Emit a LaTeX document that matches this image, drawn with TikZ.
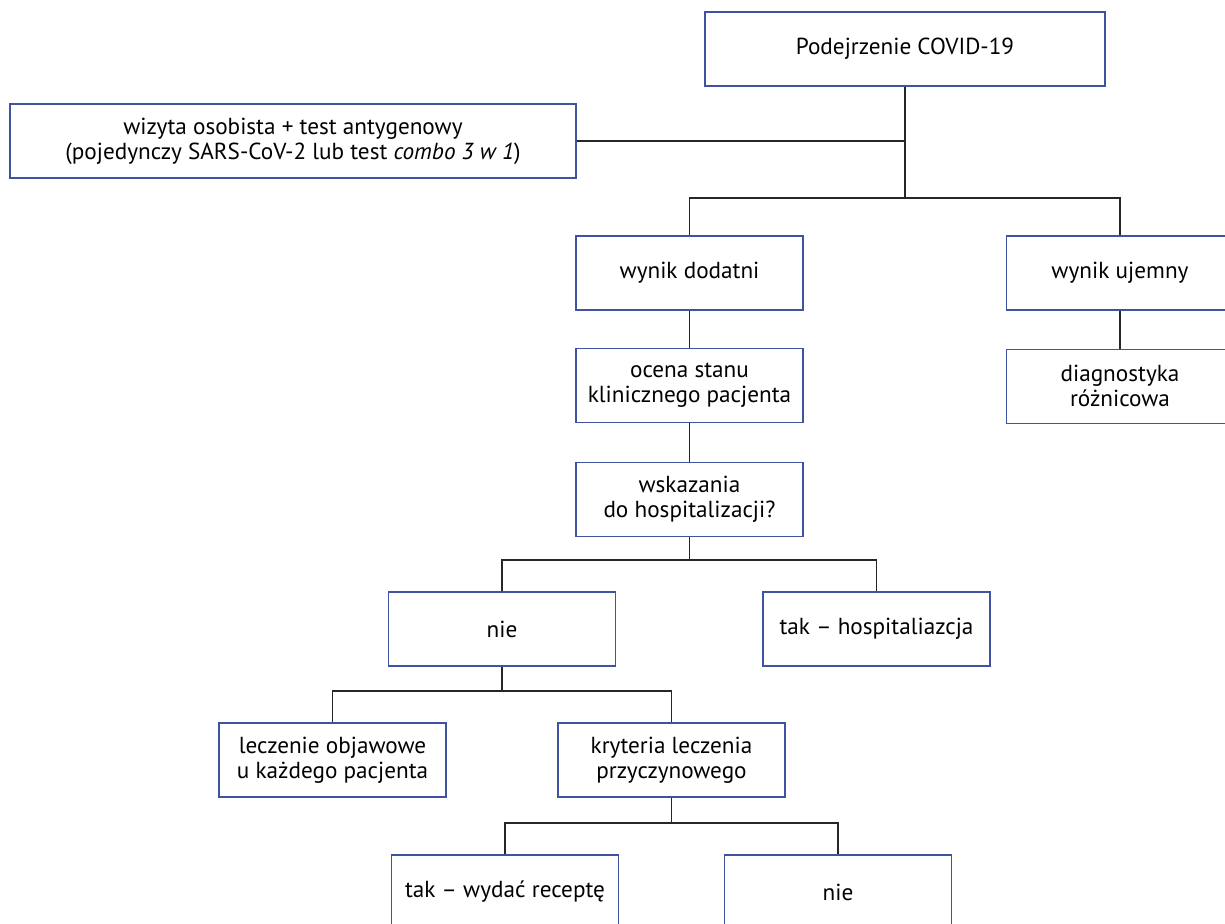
\documentclass[tikz,border=0pt]{standalone}
\usepackage{fontspec}
\setmainfont{PT Sans}
\usetikzlibrary{positioning}
\definecolor{boxblue}{RGB}{64,82,160}
\begin{document}
\begin{tikzpicture}[box/.style={draw=boxblue,line width=0.7pt,minimum width=4.54cm,minimum height=1.48cm,align=center,inner sep=2pt,font=\fontsize{13.2}{14.4}\selectfont},
                    link/.style={draw=black!85,line width=0.65pt}]
            \clip (0,0) rectangle (24.5,-18.48);

            \node[box,minimum width=8cm] (covid) at (18.1,-0.98) {Podejrzenie COVID-19};
            \node[box,minimum width=11.32cm] (wizyta) at (5.86,-2.82) {wizyta osobista + test antygenowy\\(pojedynczy SARS-CoV-2 lub test \textit{combo 3 w 1})};
            \node[box] (dodatni) at (13.79,-5.46) {wynik dodatni};
            \node[box] (ujemny) at (22.4,-5.46) {wynik ujemny};
            \node[box] (ocena) [below=0.74cm of dodatni] {ocena stanu\\klinicznego pacjenta};
            \node[box] (diag) [below=0.76cm of ujemny] {diagnostyka\\różnicowa};
            \node[box] (wskaz) [below=0.78cm of ocena] {wskazania\\do hospitalizacji?};
            \node[box] (nie) at (10.04,-12.58) {nie};
            \node[box] (hosp) at (17.53,-12.58) {tak – hospitaliazcja};
            \node[box] (objaw) at (6.65,-15.2) {leczenie objawowe\\u każdego pacjenta};
            \node[box] (kryt) at (13.43,-15.2) {kryteria leczenia\\przyczynowego};
            \node[box] (recepta) at (10.1,-17.84) {tak – wydać receptę};
            \node[box] (brak) at (16.76,-17.84) {nie};

            \coordinate (b1) at (18.1,-3.96);
            \coordinate (b2) at (13.79,-11.2);
            \coordinate (b3) at (10.04,-13.82);
            \coordinate (b4) at (13.43,-16.46);

            \draw[link] (covid) -- (b1);
            \draw[link] (wizyta.east) -- (wizyta.east -| covid.south);
            \draw[link] (dodatni) |- (b1) -| (ujemny);
            \draw[link] (dodatni) -- (ocena);
            \draw[link] (ocena) -- (wskaz);
            \draw[link] (ujemny) -- (diag);
            \draw[link] (wskaz) -- (b2);
            \draw[link] (nie) |- (b2) -| (hosp);
            \draw[link] (nie) -- (b3);
            \draw[link] (objaw) |- (b3) -| (kryt);
            \draw[link] (kryt) -- (b4);
            \draw[link] (recepta) |- (b4) -| (brak);
        \end{tikzpicture}
\end{document}
